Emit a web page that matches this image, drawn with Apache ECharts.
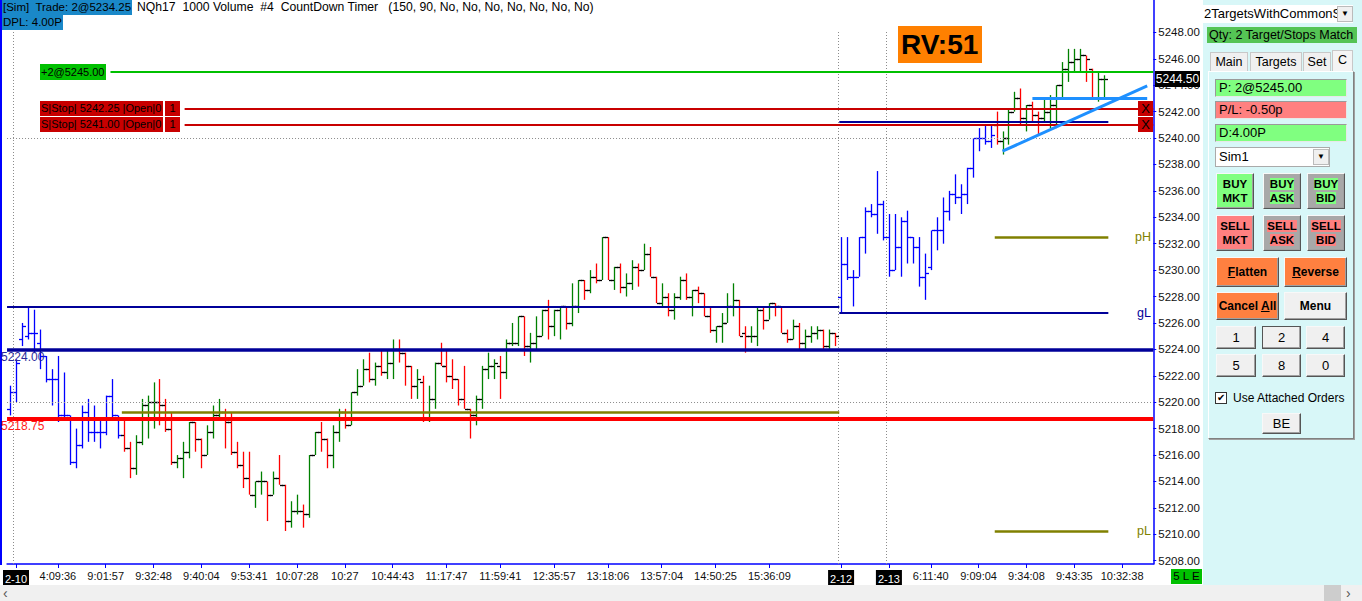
<!DOCTYPE html>
<html><head><meta charset="utf-8">
<script src="https://cdn.jsdelivr.net/npm/echarts@6/dist/echarts.min.js"></script>
<style>
body{margin:0;width:1362px;height:601px;overflow:hidden;background:#fff;font-family:"Liberation Sans",Arial,sans-serif;}
#chart{position:absolute;left:0;top:0;width:1362px;height:601px;}
.a{position:absolute;box-sizing:border-box;white-space:nowrap;overflow:hidden;color:#000;}
.btn{position:absolute;box-sizing:border-box;border:1px solid;border-color:#f8f8f8 #555 #555 #f8f8f8;box-shadow:inset -1px -1px 0 #a0a0a0;display:flex;flex-direction:column;align-items:center;justify-content:center;text-align:center;font-size:12px;color:#000;line-height:14px;background:#f0f0f0;}
.tab{position:absolute;box-sizing:border-box;top:52px;height:19px;background:#f0f0f0;border:1px solid #c8c8c8;border-bottom:none;font-size:12.5px;text-align:center;line-height:18px;}
.fld{position:absolute;box-sizing:border-box;left:1215px;width:132px;height:18px;border:1px solid #9a9a9a;border-bottom-color:#e8e8e8;border-right-color:#e8e8e8;font-size:13px;line-height:16px;padding-left:3px;}
</style></head>
<body>
<div id="chart"></div>
<div id="overlay"></div>
<script>
// ---------- DATA ----------
const opens = [
5219.5,5220.75,5224.75,5225.0,5225.25,5224.5,5223.5,5221.75,5221.75,5219.0,
5219.0,5215.5,5216.75,5219.25,5217.75,5217.75,5217.75,5220.5,5219.0,5217.5,
5216.5,5215.0,5217.0,5219.75,5220.0,5220.0,5219.75,5218.0,5215.5,5215.75,
5216.25,5218.5,5217.25,5216.0,5217.75,5219.0,5219.25,5218.5,5216.25,5215.25,
5214.25,5213.0,5214.0,5214.0,5213.0,5214.25,5213.75,5211.0,5211.75,5211.75,
5211.5,5216.0,5217.75,5217.25,5216.0,5217.75,5219.25,5218.25,5220.75,5221.25,
5222.5,5221.75,5222.75,5222.25,5223.0,5224.0,5223.75,5222.75,5221.25,5221.5,
5218.75,5220.25,5223.0,5222.75,5222.0,5221.75,5220.25,5219.5,5219.0,5220.25,
5222.5,5222.75,5222.75,5222.25,5224.5,5224.5,5226.5,5224.25,5224.5,5225.0,
5227.0,5225.75,5227.0,5227.25,5226.0,5227.25,5229.25,5228.5,5229.5,5229.25,
5232.5,5229.25,5230.25,5228.75,5229.0,5230.25,5230.0,5231.25,5229.5,5227.5,
5228.0,5227.0,5228.0,5229.25,5228.0,5228.5,5228.25,5226.5,5225.5,5225.75,
5226.0,5227.25,5227.75,5225.25,5225.0,5225.0,5227.0,5226.25,5227.5,5227.25,
5225.25,5224.75,5225.75,5224.5,5225.0,5225.25,5225.5,5224.25,5225.25,5228.0,
5230.5,5229.5,5229.5,5232.5,5234.5,5234.25,5235.0,5232.5,5230.0,5231.75,
5233.75,5232.5,5231.75,5229.5,5230.25,5233.0,5233.0,5234.5,5235.75,5235.5,
5235.75,5237.75,5240.0,5240.0,5239.75,5241.0,5239.75,5240.0,5242.0,5243.0,
5241.5,5242.5,5241.75,5241.5,5242.0,5242.5,5244.0,5245.25,5245.75,5246.0,
5246.25,5245.25,5243.0,5244.5];
const highs = [
5221.25,5223.25,5226.0,5227.25,5227.0,5225.5,5223.5,5222.5,5223.5,5222.25,
5219.0,5218.0,5219.75,5220.25,5219.75,5218.75,5220.5,5221.75,5219.0,5218.75,
5217.0,5217.5,5220.25,5220.5,5221.5,5221.75,5220.25,5219.25,5216.0,5217.0,
5218.5,5218.5,5217.25,5218.25,5219.75,5220.25,5219.5,5219.25,5217.0,5216.25,
5216.25,5214.0,5214.75,5214.0,5214.75,5216.0,5213.75,5212.5,5213.0,5212.25,
5216.0,5217.75,5218.5,5217.25,5218.25,5219.5,5219.5,5220.75,5222.5,5223.25,
5223.75,5223.0,5224.0,5224.0,5224.75,5224.75,5223.75,5222.75,5222.5,5222.0,
5221.25,5223.0,5224.5,5224.0,5223.25,5221.75,5222.75,5219.5,5220.5,5222.75,
5223.75,5223.25,5223.5,5224.75,5226.0,5226.5,5226.5,5225.25,5226.5,5227.0,
5227.75,5227.0,5227.25,5227.25,5229.0,5229.25,5229.25,5230.0,5230.5,5232.5,
5232.5,5230.25,5230.5,5229.75,5230.75,5230.5,5232.0,5231.75,5229.5,5229.0,
5228.25,5228.25,5229.5,5229.75,5228.5,5228.75,5228.25,5227.25,5225.75,5226.75,
5228.25,5229.0,5227.75,5225.75,5225.75,5227.25,5227.25,5227.5,5227.5,5227.25,
5225.5,5226.25,5226.0,5225.5,5225.75,5225.75,5225.5,5225.5,5225.25,5232.5,
5232.5,5230.0,5232.5,5234.75,5235.0,5237.5,5235.25,5234.25,5234.25,5234.0,
5234.5,5232.5,5232.5,5231.25,5233.0,5234.0,5235.5,5236.0,5237.25,5236.5,
5237.75,5240.0,5240.75,5241.0,5241.0,5242.0,5240.5,5242.25,5243.5,5243.75,
5242.5,5242.75,5242.0,5243.0,5243.25,5244.0,5245.75,5246.75,5246.75,5246.75,
5246.25,5245.25,5245.0,5244.75];
const lows = [
5219.0,5220.0,5224.25,5224.75,5223.75,5222.5,5221.5,5219.75,5218.5,5218.75,
5215.25,5215.0,5216.5,5217.0,5217.0,5216.5,5217.5,5218.75,5217.25,5216.25,
5214.25,5214.5,5216.75,5217.25,5218.0,5218.25,5217.75,5215.25,5215.0,5214.25,
5215.75,5216.25,5215.0,5216.0,5217.25,5218.75,5216.5,5216.0,5215.0,5213.5,
5213.0,5212.0,5213.0,5211.0,5213.0,5213.75,5210.25,5210.5,5211.5,5210.5,
5211.25,5216.0,5216.25,5215.0,5215.0,5217.0,5218.0,5218.25,5220.5,5221.25,
5221.5,5221.25,5222.0,5221.75,5221.75,5223.0,5221.25,5220.25,5220.25,5218.5,
5218.5,5219.5,5222.75,5221.5,5221.0,5219.75,5219.5,5217.25,5218.25,5219.5,
5221.75,5221.75,5220.25,5221.75,5224.25,5224.25,5223.5,5223.0,5224.0,5225.0,
5224.75,5225.0,5224.75,5225.5,5225.75,5226.75,5227.75,5228.25,5229.0,5229.25,
5229.25,5228.5,5228.25,5228.0,5228.5,5228.75,5230.0,5229.5,5227.5,5227.25,
5226.5,5226.25,5227.75,5227.75,5226.5,5227.5,5226.5,5225.25,5224.5,5224.5,
5226.0,5226.5,5225.0,5223.75,5224.5,5224.25,5225.5,5226.25,5226.5,5225.25,
5224.5,5224.75,5224.0,5224.0,5224.5,5224.75,5224.0,5224.0,5224.25,5226.75,
5229.25,5227.25,5229.5,5231.25,5234.0,5232.75,5232.25,5229.5,5230.0,5229.5,
5230.5,5230.5,5228.75,5227.75,5230.0,5231.5,5232.0,5233.75,5235.0,5234.25,
5235.0,5237.0,5239.0,5239.5,5239.25,5239.5,5238.75,5239.5,5242.0,5241.0,
5240.5,5241.25,5240.25,5241.25,5240.75,5240.75,5243.0,5244.25,5245.0,5245.0,
5244.25,5243.0,5242.75,5243.0];
const closes = [
5220.75,5223.0,5225.75,5225.25,5225.25,5223.5,5221.75,5221.75,5219.0,5219.0,
5215.5,5216.75,5219.25,5217.75,5217.75,5217.75,5220.5,5219.0,5217.5,5216.5,
5215.0,5217.0,5219.75,5220.0,5220.0,5219.75,5218.0,5215.5,5215.75,5216.25,
5218.5,5217.25,5216.0,5217.75,5219.0,5219.25,5218.5,5216.25,5215.25,5214.25,
5213.0,5214.0,5214.0,5213.0,5214.25,5213.75,5211.0,5211.75,5211.75,5211.5,
5216.0,5217.75,5217.25,5216.0,5217.75,5219.25,5218.25,5220.75,5221.25,5222.5,
5221.75,5222.75,5222.25,5223.0,5224.0,5223.75,5222.75,5221.25,5221.75,5218.75,
5220.25,5223.0,5222.75,5222.0,5221.75,5220.25,5219.5,5219.0,5220.25,5222.5,
5222.75,5223.0,5222.25,5224.5,5224.5,5226.5,5224.25,5224.5,5225.0,5227.0,
5225.75,5227.0,5227.25,5226.0,5227.25,5229.25,5228.5,5229.5,5229.25,5232.5,
5229.25,5230.25,5228.75,5229.0,5230.25,5230.0,5231.25,5229.5,5227.5,5228.0,
5227.0,5228.0,5229.25,5228.0,5228.5,5228.25,5226.5,5225.5,5225.75,5226.0,
5227.25,5227.75,5225.0,5225.0,5225.0,5227.0,5226.25,5227.5,5227.25,5225.25,
5224.75,5225.75,5224.5,5225.0,5225.25,5225.5,5224.25,5225.25,5225.0,5230.5,
5229.5,5229.5,5232.5,5234.5,5234.25,5235.0,5232.5,5230.0,5231.75,5233.75,
5232.5,5231.75,5229.5,5229.75,5233.0,5233.0,5234.5,5235.75,5235.5,5235.75,
5237.75,5240.0,5240.0,5239.75,5240.25,5239.75,5240.0,5242.0,5243.0,5241.5,
5242.5,5241.75,5241.5,5242.0,5242.5,5244.0,5245.25,5245.75,5246.0,5246.25,
5246.0,5243.0,5244.5,5244.5];
// bar ranges drawn in the indicator's neutral (blue) colour
const neutralRanges = [[0, 18], [139, 164]];
const timeTickIndex = [1, 8, 16, 24, 32, 40, 48, 56, 64, 73, 82, 91, 100, 109, 118, 127, 139, 147, 154, 162, 170, 178, 186];
const timeTickLabels = ['2-10','4:09:36','9:01:57','9:32:48','9:40:04','9:53:41','10:07:28','10:27','10:44:43','11:17:47','11:59:41','12:35:57','13:18:06','13:57:04','14:50:25','15:36:09','2-12','2-13','6:11:40','9:09:04','9:34:08','9:43:35','10:32:38'];
const dateLabels = ['2-10', '2-12', '2-13'];
const priceTicks = [5208,5210,5212,5214,5216,5218,5220,5222,5224,5226,5228,5230,5232,5234,5236,5238,5240,5242,5244,5246,5248];
const sessionBreaks = [0.5, 138.5, 146.5];
const gridLevels = [5240, 5220];
const positionLevel = 5245.00;
const stopLevels = [5242.25, 5241.00];
const priorLevels = [5224.00, 5218.75];        // full width
const prevHighLine = [-0.5, 138.7, 5227.25];  // [from bar, to bar, price]
const prevMidLine  = [18.7, 138.7, 5219.25];
const gLLine  = [138.7, 183.7, 5226.75];
const upperLine = [138.7, 183.7, 5241.25];
const pHLine = [164.7, 183.7, 5232.50];
const pLLine = [164.7, 183.7, 5210.25];
const trendLine = [[166, 5239.0], [190.2, 5243.95]];
const rayLine = [[171, 5243.0], [190.2, 5243.0]];
const lastPrice = 5244.50;
const X_MIN = -0.5, X_MAX = 191.22, Y_MIN = 5207.75, Y_MAX = 5250.45;

// ---------- CHART ----------
function inRanges(i){ return neutralRanges.some(r => i >= r[0] && i <= r[1]); }
const bars = opens.map((o, i) => [i, o, highs[i], lows[i], closes[i], inRanges(i) ? 0 : (closes[i] >= o ? 1 : 2)]);
const chart = echarts.init(document.getElementById('chart'), null, {renderer: 'svg', width: 1362, height: 601});
const FONT = '"Liberation Sans", Arial, sans-serif';
function seg(a, b, y1, y2, color, width, type){
  const ls = {color: color, width: width, type: type || 'solid', opacity: 1};
  return [{coord: [a, y1], lineStyle: ls}, {coord: [b, y2 === undefined ? y1 : y2], lineStyle: ls}];
}
const lineData = [
  ...sessionBreaks.map(x => [{coord: [x, Y_MIN], lineStyle: {color: '#8c8c8c', width: 1, type: [1, 2]}}, {coord: [x, Y_MAX - 2.3], lineStyle: {color: '#8c8c8c', width: 1, type: [1, 2]}}]),
  ...gridLevels.map(p => seg(X_MIN, X_MAX, p, p, '#8c8c8c', 1, [1, 2])),
  seg(prevHighLine[0], prevHighLine[1], prevHighLine[2], undefined, '#000099', 2),
  seg(prevMidLine[0], prevMidLine[1], prevMidLine[2], undefined, '#808000', 2.5),
  seg(X_MIN, X_MAX, priorLevels[0], undefined, '#000099', 3.5),
  seg(X_MIN, X_MAX, priorLevels[1], undefined, '#ff0000', 4),
  seg(gLLine[0], gLLine[1], gLLine[2], undefined, '#000099', 2),
  seg(upperLine[0], upperLine[1], upperLine[2], undefined, '#000099', 2),
  seg(pHLine[0], pHLine[1], pHLine[2], undefined, '#808000', 2.5),
  seg(pLLine[0], pLLine[1], pLLine[2], undefined, '#808000', 2.5),
  seg(16.8, X_MAX, positionLevel, undefined, '#00c000', 2),
  ...stopLevels.map(p => seg(29.2, X_MAX, p, undefined, '#c80000', 2)),
  seg(rayLine[0][0], rayLine[1][0], rayLine[0][1], rayLine[1][1], '#1e90ff', 3),
  seg(trendLine[0][0], trendLine[1][0], trendLine[0][1], trendLine[1][1], '#1e90ff', 3)
];
const labelRich = {d: {backgroundColor: '#000', color: '#fff', padding: [3, 2, 2, 2], fontSize: 11, fontFamily: FONT}};
chart.setOption({
  animation: false,
  backgroundColor: '#fff',
  color: ['#8c8c8c'],
  grid: {left: 3, top: 0, width: 1150.3, height: 564, show: false},
  xAxis: {
    type: 'value', min: X_MIN, max: X_MAX,
    axisLine: {show: true, onZero: false, lineStyle: {color: '#0000ff', width: 1.5}},
    axisTick: {show: true, customValues: timeTickIndex, length: 4, lineStyle: {color: '#0000ff'}},
    splitLine: {show: false},
    axisLabel: {
      customValues: timeTickIndex, margin: 6, color: '#111', fontSize: 11, fontFamily: FONT,
      formatter: v => { const t = timeTickLabels[timeTickIndex.indexOf(Math.round(v))] || ''; return dateLabels.includes(t) ? '{d|' + t + '}' : t; },
      rich: labelRich
    }
  },
  yAxis: {
    type: 'value', position: 'right', min: Y_MIN, max: Y_MAX, scale: true,
    axisLine: {show: true, onZero: false, lineStyle: {color: '#0000ff', width: 1.5}},
    axisTick: {show: true, customValues: priceTicks, length: 3, lineStyle: {color: '#0000ff'}},
    splitLine: {show: false},
    axisLabel: {customValues: priceTicks, margin: 5, color: '#111', fontSize: 11.5, fontFamily: FONT, formatter: v => v.toFixed(2)}
  },
  series: [
    {
      type: 'custom', z: 2, clip: true, data: bars, encode: {x: 0, y: [1, 2, 3, 4]},
      renderItem: function(params, api){
        const i = api.value(0);
        const o = api.coord([i, api.value(1)]), h = api.coord([i, api.value(2)]);
        const l = api.coord([i, api.value(3)]), c = api.coord([i, api.value(4)]);
        const k = api.value(5);
        const col = k === 0 ? '#0000ff' : (k === 1 ? '#008000' : '#ff0000');
        const tc = k === 0 ? '#0000ff' : '#000000';
        const x = Math.round(h[0]) + 0.5;
        const oy = Math.round(o[1]) + 0.5, cy = Math.round(c[1]) + 0.5;
        return {type: 'group', children: [
          {type: 'line', shape: {x1: x, y1: h[1], x2: x, y2: l[1]}, style: {stroke: col, lineWidth: 1.3}},
          {type: 'line', shape: {x1: x - 3.5, y1: oy, x2: x - 0.5, y2: oy}, style: {stroke: tc, lineWidth: 1.3}},
          {type: 'line', shape: {x1: x + 0.5, y1: cy, x2: x + 3.5, y2: cy}, style: {stroke: tc, lineWidth: 1.3}}
        ]};
      }
    },
    {
      type: 'line', z: 5, data: [], silent: true, color: '#8c8c8c',
      markLine: {silent: true, symbol: 'none', animation: false, label: {show: false}, emphasis: {disabled: true},
        lineStyle: {color: '#8c8c8c'}, data: lineData}
    }
  ]
});

// ---------- OVERLAY (labels placed through the chart's own scale) ----------
const py = p => chart.convertToPixel({gridIndex: 0}, [0, p])[1];
const ov = document.getElementById('overlay');
function box(html, l, t, w, h, css){
  const d = document.createElement('div'); d.className = 'a';
  d.style.cssText += `left:${l}px;top:${t}px;width:${w === 'auto' ? 'auto' : w + 'px'};height:${h}px;` + (css || '');
  d.innerHTML = html; ov.appendChild(d); return d;
}
// left chart border
box('', 0, 0, 2, 565, 'background:#0000ff;');
// header
box('[Sim]&nbsp; Trade: 2@5234.25', 2, 0, 'auto', 15, 'background:#1a88c8;font-size:11.5px;line-height:15px;padding:0 1px;');
box('NQh17&nbsp; 1000 Volume&nbsp; #4&nbsp; CountDown Timer&nbsp;&nbsp; (150, 90, No, No, No, No, No, No, No)', 137, 0, 'auto', 15, 'font-size:12.2px;line-height:15px;');
box('DPL: 4.00P', 2, 15, 'auto', 15, 'background:#1a88c8;font-size:11.5px;line-height:15px;padding:0 1px;');
// order labels
const yPos = py(positionLevel);
box('+2@5245.00', 40, yPos - 8, 66, 16, 'background:#00c000;font-size:11px;line-height:16px;padding-left:1px;');
stopLevels.forEach(p => {
  const y = py(p);
  box('S|Stop| ' + p.toFixed(2) + ' |Open|0', 40, y - 7.5, 123, 15, 'background:#c80000;font-size:11px;line-height:15px;padding-left:1px;');
  box('1', 165, y - 7.5, 15, 15, 'background:#c80000;font-size:11px;line-height:15px;text-align:center;');
  box('X', 1138, y - 7.5, 15, 15, 'background:#c80000;font-size:13px;line-height:15px;text-align:center;');
});
box(priorLevels[0].toFixed(2), 1, py(priorLevels[0]) + 1, 50, 14, 'color:#2b2b9a;font-size:12px;line-height:14px;');
box(priorLevels[1].toFixed(2), 1, py(priorLevels[1]) + 0, 50, 14, 'color:#ff1a1a;font-size:12px;line-height:14px;');
box('gL', 1120, py(gLLine[2]) - 8, 31, 16, 'color:#000099;font-size:12.5px;line-height:16px;text-align:right;');
box('pH', 1120, py(pHLine[2]) - 8, 31, 16, 'color:#808000;font-size:12.5px;line-height:16px;text-align:right;');
box('pL', 1120, py(pLLine[2]) - 8, 31, 16, 'color:#808000;font-size:12.5px;line-height:16px;text-align:right;');
box('RV:51', 898, 26, 84, 37, 'background:#ff8000;font-size:28px;font-weight:bold;line-height:37px;padding-left:3px;');
box(lastPrice.toFixed(2), 1155, py(lastPrice) - 8, 45, 16, 'background:#000;color:#fff;font-size:12px;line-height:16px;text-align:center;');
// strip under price axis
box('', 1155, 565, 48, 20, 'background:#fff;');
box('5 L E', 1171, 569, 31, 15, 'background:#00c000;font-size:11.5px;line-height:15px;text-align:center;');
// bottom scrollbar
box('', 0, 585, 1362, 16, 'background:#f0f0f0;');
box('&#x2039;', 3, 585, 12, 16, 'font-size:14px;line-height:16px;color:#555;overflow:visible;');
box('', 1324, 585, 17, 16, 'background:#cdcdcd;');
box('&#x203A;', 1346, 585, 12, 16, 'font-size:14px;line-height:16px;color:#555;overflow:visible;');
// right panel
box('', 1203, 0, 159, 585, 'background:#d8f7f8;');
box('2TargetsWithCommonS', 1203, 5, 150, 18, 'background:#fff;font-size:13px;line-height:18px;padding-left:1px;');
box('&#9660;', 1337, 6, 16, 16, 'background:#f0f0f0;border:1px solid #bbb;font-size:8px;line-height:14px;text-align:center;');
box('Qty: 2 Target/Stops Match', 1207, 27, 150, 16, 'background:#55c455;font-size:12.5px;line-height:16px;padding-left:2px;');
[['Main',1210,38],['Targets',1250,52],['Set',1303,28]].forEach(t => {
  const d = document.createElement('div'); d.className = 'tab'; d.style.left = t[1] + 'px'; d.style.width = t[2] + 'px'; d.textContent = t[0]; ov.appendChild(d);
});
box('C', 1332, 50, 21, 21, 'background:#f4f4f4;border:1px solid #c8c8c8;border-bottom:none;font-size:12.5px;line-height:18px;text-align:center;');
box('', 1208, 71, 146, 368, 'border:1px solid;border-color:#ffffff #808080 #808080 #ffffff;box-shadow:1px 1px 0 #a0a0a0;');
const f1 = document.createElement('div'); f1.className = 'fld'; f1.style.top = '79px'; f1.style.background = '#80ff80'; f1.textContent = 'P: 2@5245.00'; ov.appendChild(f1);
const f2 = document.createElement('div'); f2.className = 'fld'; f2.style.top = '101px'; f2.style.background = '#ff8080'; f2.textContent = 'P/L: -0.50p'; ov.appendChild(f2);
const f3 = document.createElement('div'); f3.className = 'fld'; f3.style.top = '124px'; f3.style.background = '#80ff80'; f3.textContent = 'D:4.00P'; ov.appendChild(f3);
box('Sim1', 1215, 147, 115, 20, 'background:#fff;border:1px solid #aaa;font-size:13px;line-height:18px;padding-left:3px;');
box('&#9660;', 1313, 149, 16, 16, 'background:#f0f0f0;border:1px solid #bbb;font-size:8px;line-height:14px;text-align:center;');
function btn(html, l, t, w, h, bg, extra){
  const d = document.createElement('div'); d.className = 'btn';
  d.style.cssText += `left:${l}px;top:${t}px;width:${w}px;height:${h}px;background:${bg};` + (extra || '');
  d.innerHTML = html; ov.appendChild(d); return d;
}
const hl = (t, c) => `<span style="background:${c}">${t}</span>`;
btn('<b>BUY</b><b>MKT</b>', 1216, 173, 38, 36, '#80ff80', 'font-size:11.5px;');
btn('<b>' + hl('BUY', '#80ff80') + '</b><b>' + hl('ASK', '#80ff80') + '</b>', 1263, 173, 38, 36, '#a8a8a8', 'font-size:11.5px;');
btn('<b>' + hl('BUY', '#80ff80') + '</b><b>' + hl('BID', '#80ff80') + '</b>', 1307, 173, 38, 36, '#a8a8a8', 'font-size:11.5px;');
btn('<b>SELL</b><b>MKT</b>', 1216, 215, 38, 36, '#ff8080', 'font-size:11.5px;');
btn('<b>' + hl('SELL', '#ff8080') + '</b><b>' + hl('ASK', '#ff8080') + '</b>', 1263, 215, 38, 36, '#a8a8a8', 'font-size:11.5px;');
btn('<b>' + hl('SELL', '#ff8080') + '</b><b>' + hl('BID', '#ff8080') + '</b>', 1307, 215, 38, 36, '#a8a8a8', 'font-size:11.5px;');
btn('<b><u>F</u>latten</b>', 1216, 257, 63, 30, '#ff8040');
btn('<b><u>R</u>everse</b>', 1284, 257, 63, 30, '#ff8040');
btn('<b>Cancel <u>A</u>ll</b>', 1216, 292, 63, 28, '#ff8040');
btn('<b>Menu</b>', 1284, 292, 63, 28, '#f0f0f0');
btn('1', 1216, 326, 40, 23, '#f0f0f0', 'font-size:13px;');
btn('2', 1262, 326, 39, 23, '#f0f0f0', 'font-size:13px;border-color:#555;');
btn('4', 1306, 326, 39, 23, '#f0f0f0', 'font-size:13px;');
btn('5', 1216, 354, 40, 23, '#f0f0f0', 'font-size:13px;');
btn('8', 1262, 354, 39, 23, '#f0f0f0', 'font-size:13px;');
btn('0', 1306, 354, 39, 23, '#f0f0f0', 'font-size:13px;');
box('&#10004;', 1215, 392, 12, 12, 'background:#fff;border:1px solid #333;font-size:10px;line-height:10px;text-align:center;');
box('Use Attached Orders', 1233, 390, 118, 16, 'font-size:12px;line-height:16px;');
btn('BE', 1262, 413, 39, 21, '#f0f0f0', 'font-size:13px;');
</script>
</body></html>
